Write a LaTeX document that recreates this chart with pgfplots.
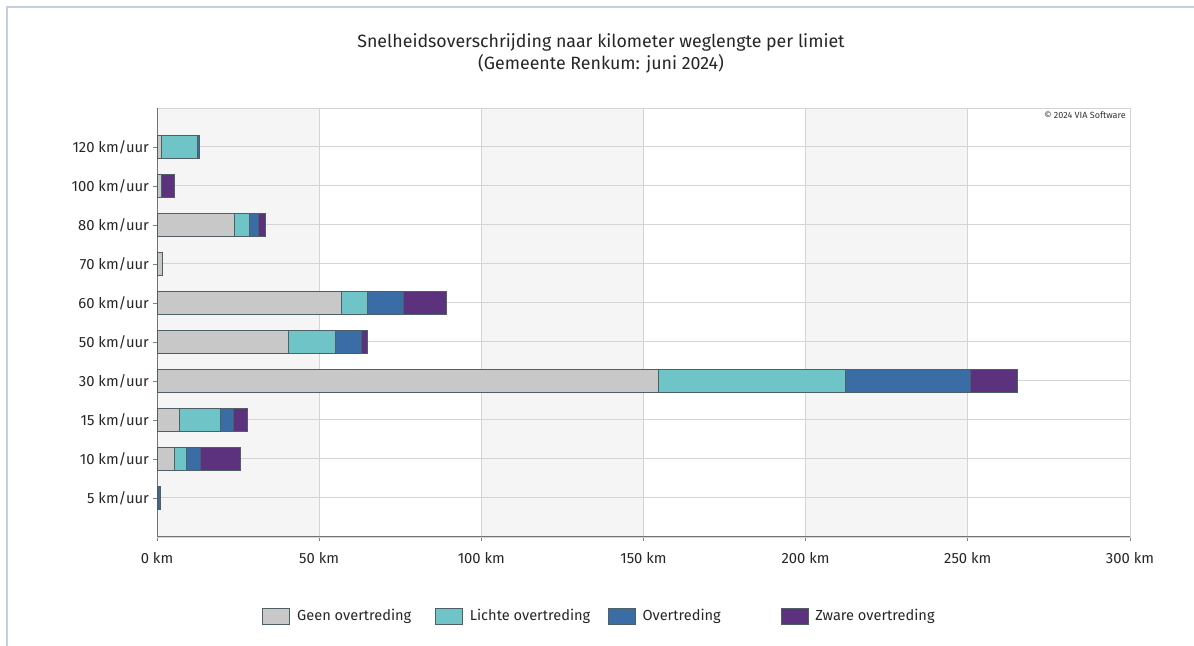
\documentclass[border=0pt]{standalone}
\usepackage{pgfplots}
\pgfplotsset{compat=1.18}
\usepackage{pgfplotstable}
\usepackage{fontspec}
\setmainfont{Fira Sans}
\definecolor{cgray}{HTML}{C8C8C8}
\definecolor{ccyan}{HTML}{6EC4C6}
\definecolor{cblue}{HTML}{3A6CA6}
\definecolor{cpurple}{HTML}{5C327F}
\definecolor{bandc}{HTML}{F5F5F5}
\definecolor{framec}{HTML}{C3D0DC}
\definecolor{gridc}{HTML}{D4D4D4}
\definecolor{edgec}{HTML}{4F5F66}
\pgfplotstableread{
cat gray cyan blue purple
0 0 0.4 0.5 0
1 5.3 3.6 4.6 12.1
2 6.8 12.6 4.2 4.3
3 154.5 57.8 38.4 14.5
4 40.4 14.6 8.0 2.0
5 56.9 8.1 10.9 13.2
6 1.5 0 0 0
7 23.8 4.6 2.7 2.2
8 1.2 0 0.1 4.2
9 1.2 11.3 0.7 0
}\datatable
\begin{document}
\begin{tikzpicture}
\path[use as bounding box] (0,0) rectangle (597pt,323pt);
\draw[framec, line width=1pt] (3.5pt,0) -- (3.5pt,319.5pt) -- (597pt,319.5pt);
\fill[bandc] (78.5pt,54.5pt) rectangle (159.583pt,269pt);
\fill[bandc] (240.667pt,54.5pt) rectangle (321.75pt,269pt);
\fill[bandc] (402.833pt,54.5pt) rectangle (483.917pt,269pt);
\node[font=\fontsize{8.9}{11}\selectfont, align=center, text=black!85] at (300.5pt,296.5pt)
  {Snelheidsoverschrijding naar kilometer weglengte per limiet\\(Gemeente Renkum: juni 2024)};
\begin{axis}[
  at={(78.5pt,54.5pt)}, anchor=south west,
  scale only axis, width=486.5pt, height=214.5pt,
  xbar stacked, bar width=11.5pt,
  xmin=0, xmax=300, ymin=-1, ymax=10,
  xtick={0,50,...,300},
  xticklabels={0 km,50 km,100 km,150 km,200 km,250 km,300 km},
  ytick={0,...,9},
  yticklabels={5 km/uur,10 km/uur,15 km/uur,30 km/uur,50 km/uur,60 km/uur,70 km/uur,80 km/uur,100 km/uur,120 km/uur},
  xmajorgrids, ymajorgrids,
  grid style={draw=gridc, line width=0.5pt},
  axis line style={draw=gridc},
  tick align=outside, tick pos=left,
  major tick length=2pt,
  tick style={black!50, line width=0.4pt},
  ticklabel style={font=\fontsize{7.4}{9}\selectfont, text=black!85},
  yticklabel style={xshift=1.5pt},
  xticklabel style={yshift=-2pt},
  every axis plot/.append style={draw=edgec, line width=0.35pt},
  legend columns=4,
  area legend,
  legend image code/.code={\draw[#1] (0pt,-4pt) rectangle (13.5pt,4pt);},
  legend style={draw=none, fill=none, at={(0.1018,-0.184)}, anchor=west,
    font=\fontsize{7.3}{9}\selectfont, text=black!85},
]
\addplot[fill=cgray] table[x=gray, y=cat] {\datatable};
\addlegendentry{\makebox[68.5pt][l]{\hspace{1.5pt}Geen overtreding}}
\addplot[fill=ccyan] table[x=cyan, y=cat] {\datatable};
\addlegendentry{\makebox[68.5pt][l]{\hspace{1.5pt}Lichte overtreding}}
\addplot[fill=cblue] table[x=blue, y=cat] {\datatable};
\addlegendentry{\makebox[68.5pt][l]{\hspace{1.5pt}Overtreding}}
\addplot[fill=cpurple] table[x=purple, y=cat] {\datatable};
\addlegendentry{\makebox[68.5pt][l]{\hspace{1.5pt}Zware overtreding}}
\draw[black!55, line width=0.5pt] (rel axis cs:0,1) -- (rel axis cs:0,0) -- (rel axis cs:1,0);
\node[anchor=north east, font=\fontsize{4.5}{5}\selectfont, text=black!80, inner sep=1pt] at (rel axis cs:0.998,0.997) {© 2024 VIA Software};
\end{axis}
\end{tikzpicture}
\end{document}
